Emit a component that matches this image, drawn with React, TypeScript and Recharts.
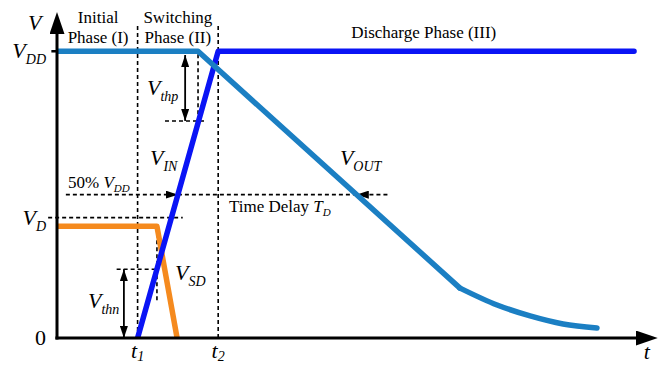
import React from "react";
import { ComposedChart, Line, XAxis, YAxis, ReferenceLine, ReferenceDot } from "recharts";

// supply levels
const VDD = 1;
const VD = 0.42;
const VSD_LEVEL = 0.39;
const HALF = 0.5;
const VTHP = 0.757;
const VTHN = 0.24;

// time marks
const T1 = 1;
const T2 = 2;
const X_MAX = 7.42;
const Y_MAX = 1.13;

// waveforms (t, v)
const vinPoints = [
  { t: 1, v: 0 },
  { t: 2, v: 1 },
  { t: 7.16, v: 1 },
];
const voutRamp = [
  { t: 0, v: 1 },
  { t: 1.75, v: 1 },
  { t: 5.0, v: 0.174 },
];
const voutTail = [
  { t: 5.0, v: 0.174 },
  { t: 5.46, v: 0.115 },
  { t: 5.87, v: 0.077 },
  { t: 6.28, v: 0.049 },
  { t: 6.7, v: 0.035 },
];
const vsdPoints = [
  { t: 0, v: VSD_LEVEL },
  { t: 1.24, v: VSD_LEVEL },
  { t: 1.49, v: 0 },
];

// axis ticks
const voltTicks = [0, VD, VDD];
const voltTickLabels = [[["0", "r"]], [["V", "i"], ["D", "s"]], [["V", "i"], ["DD", "s"]]];
const timeTicks = [T1, T2];
const timeTickLabels = [[["t", "i"], ["1", "s"]], [["t", "i"], ["2", "s"]]];

// annotation texts
const notes = [
  { t: -0.36, v: 1.074, parts: [["V", "i"]], size: 22 },
  { t: 0.51, v: 1.099, parts: [["Initial", "r"]], size: 17, anchor: "middle" },
  { t: 0.51, v: 1.029, parts: [["Phase (I)", "r"]], size: 17, anchor: "middle" },
  { t: 1.5, v: 1.099, parts: [["Switching", "r"]], size: 17, anchor: "middle" },
  { t: 1.5, v: 1.029, parts: [["Phase (II)", "r"]], size: 17, anchor: "middle" },
  { t: 4.55, v: 1.046, parts: [["Discharge Phase (III)", "r"]], size: 17, anchor: "middle" },
  { t: 1.117, v: 0.848, parts: [["V", "i"], ["thp", "s"]], size: 22 },
  { t: 1.154, v: 0.603, parts: [["V", "i"], ["IN", "s"]], size: 22 },
  { t: 3.51, v: 0.603, parts: [["V", "i"], ["OUT", "s"]], size: 22 },
  { t: 0.136, v: 0.523, parts: [["50%\u00a0", "r"], ["V", "i"], ["DD", "s"]], size: 17 },
  { t: 2.134, v: 0.44, parts: [["Time Delay\u00a0", "r"], ["T", "i"], ["D", "s"]], size: 17 },
  { t: 1.464, v: 0.202, parts: [["V", "i"], ["SD", "s"]], size: 22 },
  { t: 0.385, v: 0.105, parts: [["V", "i"], ["thn", "s"]], size: 22 },
  { t: 7.28, v: -0.074, parts: [["t", "i"]], size: 22 },
];

// guide lines: from, to, dashed?, arrow heads
const guides = [
  { from: [T1, 0], to: [T1, 1.092], dash: true },
  { from: [T2, 0], to: [T2, 1.092], dash: true },
  { from: [-0.11, VD], to: [1.56, VD], dash: true },
  { from: [0.11, HALF], to: [1.5, HALF], dash: true, end: true },
  { from: [1.5, HALF], to: [3.72, HALF], dash: true },
  { from: [4.1, HALF], to: [3.72, HALF], dash: true, end: true },
  { from: [1.34, VTHP], to: [1.84, VTHP], dash: true },
  { from: [1.75, 0.99], to: [1.75, VTHP], dash: true },
  { from: [1.59, 0.987], to: [1.59, VTHP], start: true, end: true },
  { from: [0.74, VTHN], to: [1.24, VTHN], dash: true },
  { from: [1.24, VSD_LEVEL], to: [1.24, 0.13], dash: true },
  { from: [0.83, VTHN], to: [0.83, 0], start: true, end: true },
];

const FONT = "Liberation Serif, Times New Roman, serif";

function Rich({ x, y, parts, size, anchor = "start", shiftRatio = 0.25 }: any) {
  const sub = Math.round(size * 0.64);
  const shift = Math.round(size * shiftRatio);
  let low = false;
  return (
    <text x={x} y={y} textAnchor={anchor} style={{ fontFamily: FONT }} fontSize={size} fill="#000">
      {parts.map(([str, kind]: [string, string], i: number) => {
        let dy = 0;
        if (kind === "s" && !low) {
          dy = shift;
          low = true;
        } else if (kind !== "s" && low) {
          dy = -shift;
          low = false;
        }
        return (
          <tspan key={i} dy={dy} fontStyle={kind === "r" ? "normal" : "italic"} fontSize={kind === "s" ? sub : size}>
            {str}
          </tspan>
        );
      })}
    </text>
  );
}

const VoltTick = (props: any) => {
  const idx = voltTicks.indexOf(props.payload.value);
  return <Rich x={props.x} y={props.y + 7} parts={voltTickLabels[idx]} size={22} anchor="end" />;
};

const TimeTick = (props: any) => {
  const idx = timeTicks.indexOf(props.payload.value);
  return <Rich x={props.x} y={props.y + 20} parts={timeTickLabels[idx]} size={22} anchor="middle" shiftRatio={0.12} />;
};

export default function App() {
  return (
    <div style={{ position: "absolute", left: 0, top: 0, width: 660, height: 365, background: "#fff" }}>
      <svg width={0} height={0} style={{ position: "absolute" }}>
        <defs>
          <marker id="axisHead" markerUnits="userSpaceOnUse" markerWidth={22} markerHeight={15} refX={16} refY={7.5} orient="auto">
            <path d="M0,0 L22,7.5 L0,15 z" fill="#000" />
          </marker>
          <marker id="smallHead" markerUnits="userSpaceOnUse" markerWidth={12} markerHeight={8} refX={12} refY={4} orient="auto-start-reverse">
            <path d="M0,0 L12,4 L0,8 z" fill="#000" />
          </marker>
        </defs>
      </svg>
      <ComposedChart width={660} height={365} margin={{ top: 14, right: 5, bottom: 0, left: 0 }}>
        <XAxis
          type="number"
          dataKey="t"
          domain={[0, X_MAX]}
          allowDataOverflow
          ticks={timeTicks}
          interval={0}
          axisLine={false}
          tickLine={false}
          tickSize={0}
          tickMargin={0}
          height={27}
          tick={TimeTick}
        />
        <YAxis
          type="number"
          domain={[0, Y_MAX]}
          allowDataOverflow
          ticks={voltTicks}
          interval={0}
          axisLine={false}
          tickLine={false}
          tickSize={0}
          tickMargin={11}
          width={57}
          tick={VoltTick}
        />

        {guides.map((g, i) => (
          <ReferenceLine
            key={"g" + i}
            segment={[
              { x: g.from[0], y: g.from[1] },
              { x: g.to[0], y: g.to[1] },
            ]}
            ifOverflow="visible"
            shape={(p: any) => (
              <line
                x1={p.x1}
                y1={p.y1}
                x2={p.x2}
                y2={p.y2}
                stroke="#000"
                strokeWidth={g.dash ? 1.6 : 1.8}
                strokeDasharray={g.dash ? "4 3" : undefined}
                markerStart={g.start ? "url(#smallHead)" : undefined}
                markerEnd={g.end ? "url(#smallHead)" : undefined}
              />
            )}
          />
        ))}

        <Line data={vsdPoints} dataKey="v" type="linear" stroke="#f58a1e" strokeWidth={5.5} strokeLinecap="butt" strokeLinejoin="round" dot={false} activeDot={false} isAnimationActive={false} />
        <Line data={vinPoints} dataKey="v" type="linear" stroke="#0a14f5" strokeWidth={5.5} strokeLinecap="round" strokeLinejoin="round" dot={false} activeDot={false} isAnimationActive={false} />
        <Line data={voutRamp} dataKey="v" type="linear" stroke="#1b7fc3" strokeWidth={5.5} strokeLinecap="round" strokeLinejoin="round" dot={false} activeDot={false} isAnimationActive={false} />
        <Line data={voutTail} dataKey="v" type="monotone" stroke="#1b7fc3" strokeWidth={5.5} strokeLinecap="round" strokeLinejoin="round" dot={false} activeDot={false} isAnimationActive={false} />

        {/* axes with arrow heads */}
        <ReferenceLine
          segment={[{ x: 0, y: -0.005 }, { x: 0, y: 1.116 }]}
          ifOverflow="visible"
          shape={(p: any) => <line x1={p.x1} y1={p.y1} x2={p.x2} y2={p.y2} stroke="#000" strokeWidth={3} markerEnd="url(#axisHead)" />}
        />
        <ReferenceLine
          segment={[{ x: -0.02, y: 0 }, { x: 7.38, y: 0 }]}
          ifOverflow="visible"
          shape={(p: any) => <line x1={p.x1} y1={p.y1} x2={p.x2} y2={p.y2} stroke="#000" strokeWidth={3} markerEnd="url(#axisHead)" />}
        />
        <ReferenceLine
          segment={[{ x: -0.07, y: VDD }, { x: 0, y: VDD }]}
          ifOverflow="visible"
          shape={(p: any) => <line x1={p.x1} y1={p.y1} x2={p.x2} y2={p.y2} stroke="#000" strokeWidth={2.5} />}
        />

        {notes.map((n, i) => (
          <ReferenceDot
            key={"n" + i}
            x={n.t}
            y={n.v}
            r={1}
            ifOverflow="visible"
            shape={(p: any) => <Rich x={p.cx} y={p.cy} parts={n.parts} size={n.size} anchor={n.anchor} />}
          />
        ))}
      </ComposedChart>
    </div>
  );
}
